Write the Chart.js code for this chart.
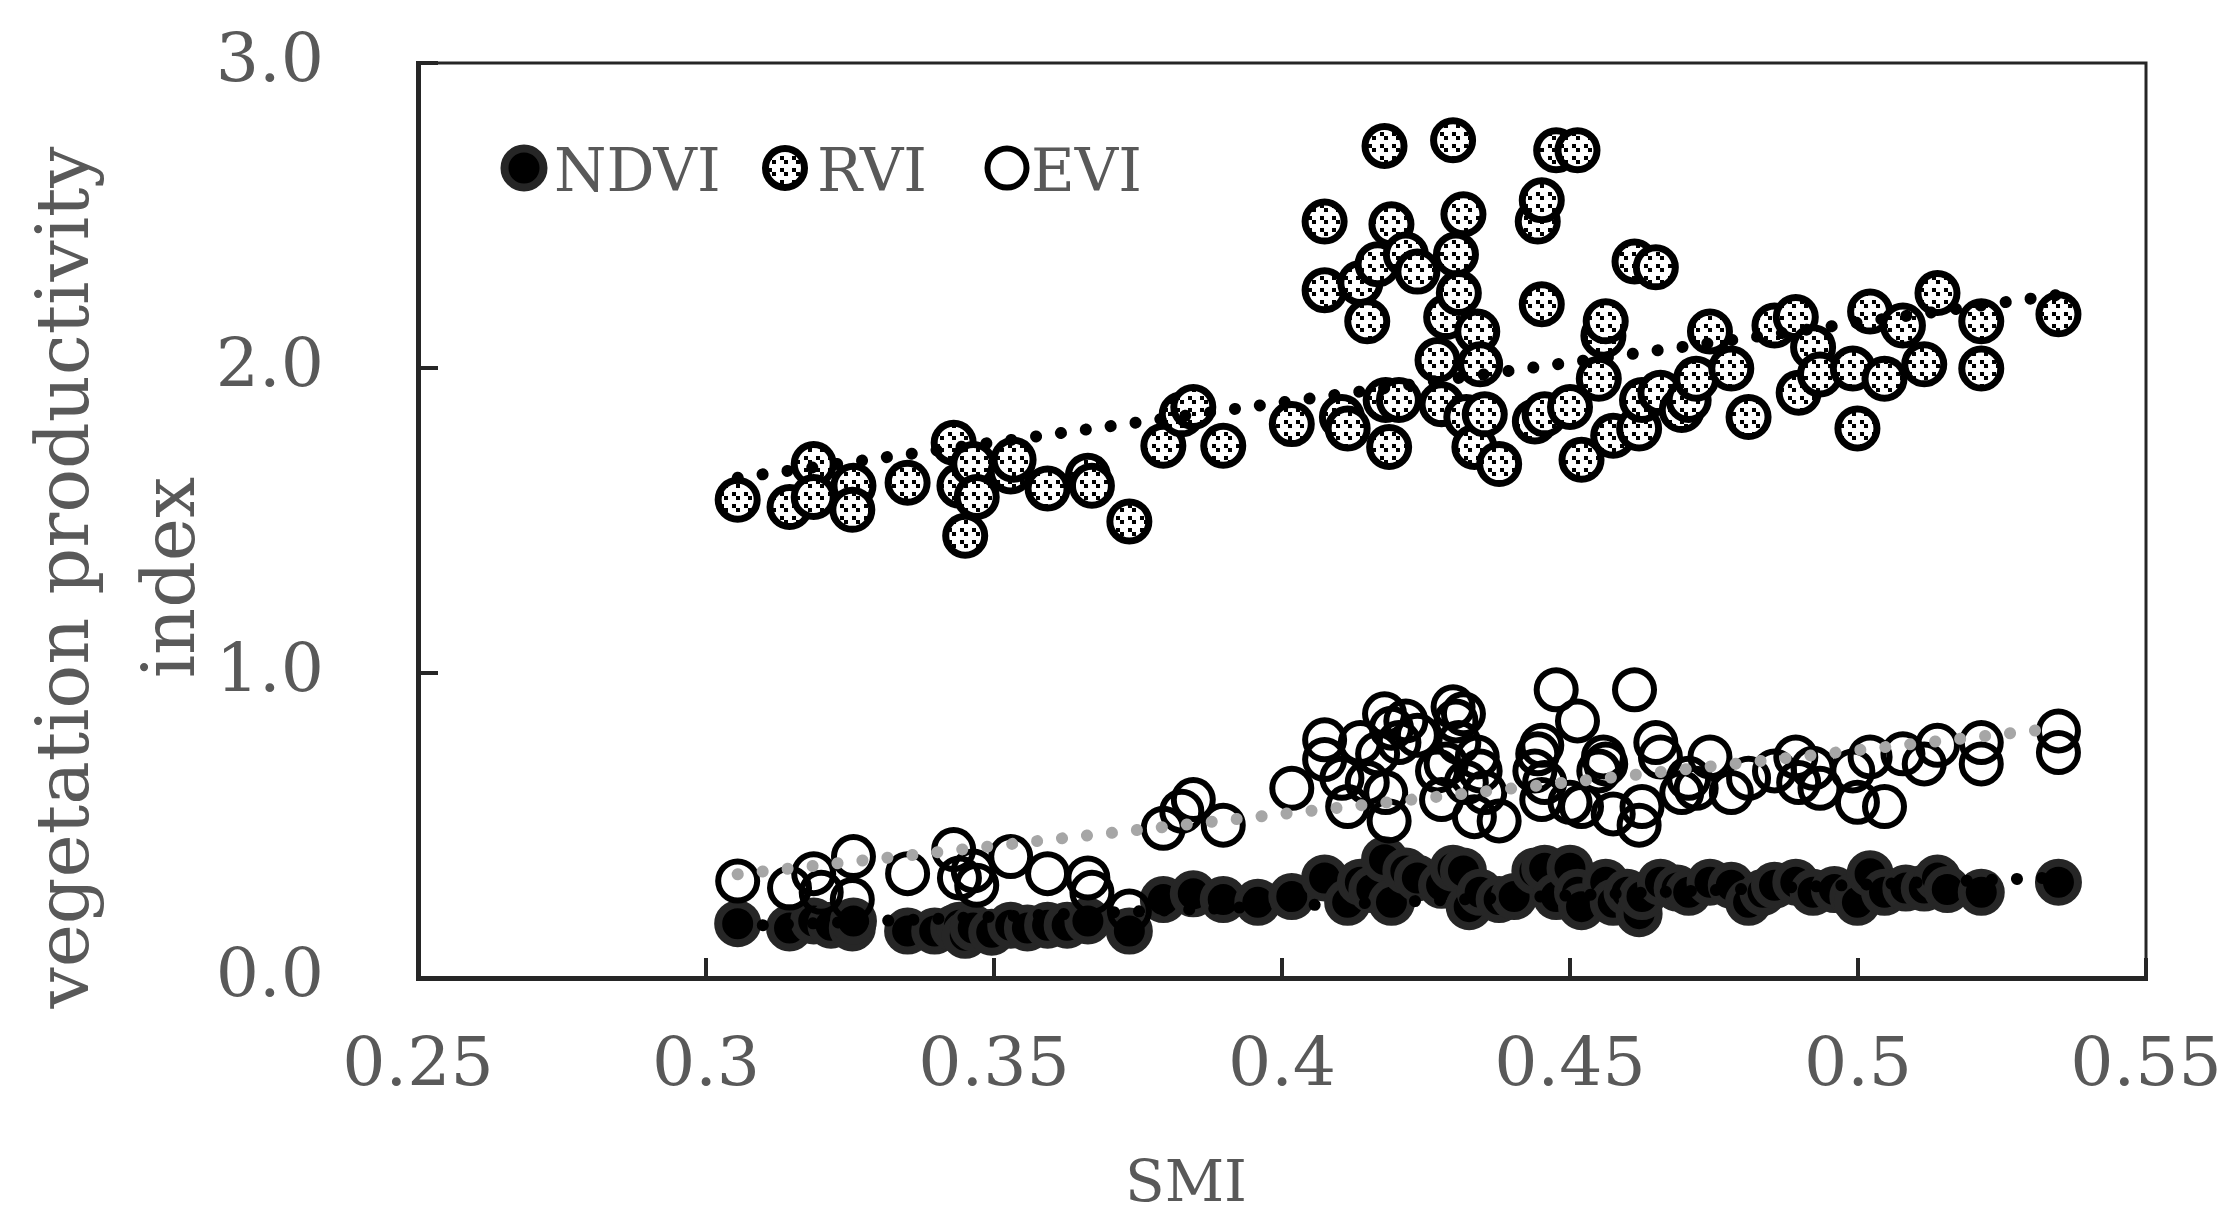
<!DOCTYPE html>
<html><head><meta charset="utf-8">
<script src="https://cdn.jsdelivr.net/npm/chart.js@4.4.1/dist/chart.umd.min.js"></script>
<style>html,body{margin:0;padding:0;background:#fff;}#wrap{width:2239px;height:1231px;}</style>
</head><body><div id="wrap"><canvas id="c" width="2239" height="1231"></canvas></div>
<script>
const seriesNames = ['NDVI', 'RVI', 'EVI'];
const xTickValues = [0.25, 0.3, 0.35, 0.4, 0.45, 0.5, 0.55];
const xTickLabels = ['0.25', '0.3', '0.35', '0.4', '0.45', '0.5', '0.55'];
const yTickValues = [0, 1, 2, 3];
const yTickLabels = ['0.0', '1.0', '2.0', '3.0'];
const xTitle = 'SMI';
const yTitle = ['vegetation productivity', 'index'];

const ndviPoints = [[0.3055,0.178],[0.3145,0.164],[0.3187,0.187],[0.3217,0.173],[0.3254,0.164],[0.3256,0.187],[0.335,0.154],[0.3397,0.154],[0.343,0.164],[0.344,0.173],[0.345,0.14],[0.3464,0.164],[0.3496,0.15],[0.3529,0.173],[0.3558,0.164],[0.3593,0.173],[0.3627,0.173],[0.3663,0.187],[0.3735,0.154],[0.3794,0.257],[0.3846,0.276],[0.3898,0.257],[0.3958,0.248],[0.4017,0.267],[0.4074,0.328],[0.4114,0.248],[0.4136,0.314],[0.4156,0.29],[0.4178,0.388],[0.419,0.248],[0.4215,0.351],[0.4235,0.328],[0.4277,0.304],[0.4297,0.36],[0.4315,0.351],[0.4325,0.234],[0.4344,0.281],[0.4377,0.257],[0.4403,0.267],[0.4439,0.351],[0.4456,0.36],[0.4476,0.267],[0.45,0.36],[0.4513,0.281],[0.452,0.234],[0.4562,0.314],[0.4575,0.248],[0.4599,0.281],[0.462,0.211],[0.4625,0.267],[0.4657,0.314],[0.4686,0.295],[0.4706,0.281],[0.4743,0.314],[0.478,0.304],[0.481,0.248],[0.4835,0.281],[0.4855,0.304],[0.4892,0.314],[0.4922,0.281],[0.4959,0.29],[0.4991,0.267],[0.4999,0.248],[0.5021,0.342],[0.5046,0.281],[0.5083,0.295],[0.5115,0.295],[0.5138,0.328],[0.5155,0.29],[0.5214,0.281],[0.5348,0.314]];

const rviPoints = [[0.3055,1.568],[0.3145,1.544],[0.3187,1.685],[0.3187,1.577],[0.3256,1.614],[0.3254,1.535],[0.335,1.624],[0.343,1.755],[0.344,1.614],[0.345,1.45],[0.3464,1.685],[0.347,1.577],[0.3529,1.661],[0.3534,1.699],[0.3593,1.605],[0.3663,1.647],[0.367,1.614],[0.3735,1.497],[0.3794,1.745],[0.3826,1.848],[0.3846,1.872],[0.3898,1.745],[0.4017,1.816],[0.4074,2.48],[0.4074,2.255],[0.4104,1.839],[0.4114,1.802],[0.4136,2.279],[0.4148,2.153],[0.4166,2.34],[0.4178,2.728],[0.418,1.895],[0.4186,1.741],[0.419,2.471],[0.4203,1.895],[0.4215,2.372],[0.4235,2.316],[0.427,2.026],[0.4277,1.881],[0.4285,2.167],[0.4297,2.747],[0.4302,2.372],[0.4307,2.246],[0.4315,2.504],[0.432,1.839],[0.4334,1.741],[0.4339,2.12],[0.4344,2.012],[0.4352,1.848],[0.4377,1.685],[0.4439,1.825],[0.4444,2.48],[0.4451,2.55],[0.4451,2.209],[0.4456,1.848],[0.4476,2.714],[0.45,1.872],[0.4513,2.714],[0.452,1.699],[0.455,1.965],[0.4558,2.106],[0.4562,2.153],[0.4575,1.778],[0.4612,2.349],[0.462,1.802],[0.4625,1.895],[0.4649,2.33],[0.4657,1.919],[0.4694,1.862],[0.4706,1.895],[0.4719,1.965],[0.4743,2.12],[0.478,1.998],[0.481,1.839],[0.4855,2.139],[0.4892,2.167],[0.4897,1.919],[0.4922,2.068],[0.4934,1.979],[0.4991,1.998],[0.4999,1.802],[0.5021,2.185],[0.5046,1.965],[0.5078,2.139],[0.5115,2.012],[0.5138,2.246],[0.5214,2.153],[0.5214,1.998],[0.5348,2.176]];

const eviPoints = [[0.3055,0.318],[0.3145,0.295],[0.3187,0.342],[0.32,0.281],[0.3256,0.398],[0.3254,0.257],[0.335,0.342],[0.343,0.421],[0.344,0.328],[0.3464,0.351],[0.347,0.304],[0.3529,0.398],[0.3593,0.342],[0.3663,0.328],[0.367,0.281],[0.3735,0.22],[0.3794,0.491],[0.3826,0.547],[0.3846,0.585],[0.3898,0.501],[0.4017,0.622],[0.4074,0.781],[0.4074,0.716],[0.4104,0.655],[0.4114,0.562],[0.4136,0.772],[0.4148,0.641],[0.4166,0.735],[0.4178,0.866],[0.418,0.608],[0.4186,0.515],[0.419,0.819],[0.4203,0.772],[0.4215,0.843],[0.4235,0.796],[0.427,0.679],[0.4277,0.585],[0.4285,0.702],[0.4297,0.889],[0.4302,0.843],[0.4307,0.772],[0.4315,0.866],[0.432,0.641],[0.4334,0.529],[0.4339,0.725],[0.4344,0.679],[0.4352,0.608],[0.4377,0.515],[0.4439,0.679],[0.4444,0.735],[0.4451,0.763],[0.4451,0.585],[0.4456,0.641],[0.4476,0.945],[0.45,0.576],[0.4513,0.843],[0.452,0.562],[0.455,0.679],[0.4558,0.725],[0.4562,0.702],[0.4575,0.538],[0.4612,0.945],[0.462,0.501],[0.4625,0.562],[0.4649,0.772],[0.4657,0.725],[0.4694,0.608],[0.4706,0.655],[0.4719,0.622],[0.4743,0.725],[0.478,0.608],[0.481,0.655],[0.4855,0.679],[0.4892,0.725],[0.4897,0.641],[0.4922,0.688],[0.4934,0.622],[0.4991,0.679],[0.4999,0.576],[0.5021,0.725],[0.5046,0.562],[0.5078,0.735],[0.5115,0.702],[0.5138,0.763],[0.5214,0.772],[0.5214,0.702],[0.5348,0.81],[0.5348,0.739]];

const trendSMI = [0.3055, 0.5348];
const ndviTrend = [0.17, 0.33];
const rviTrend = [1.64, 2.24];
const eviTrend = [0.34, 0.82];

const toXY = arr => arr.map(p => ({x: p[0], y: p[1]}));
const trendXY = vals => trendSMI.map((x, i) => ({x: x, y: vals[i]}));

const canvas = document.getElementById('c');
const mainCtx = canvas.getContext('2d');
const tile = document.createElement('canvas');
tile.width = 12; tile.height = 12;
const tg = tile.getContext('2d');
tg.fillStyle = '#ffffff'; tg.fillRect(0, 0, 12, 12);
tg.fillStyle = '#000000';
tg.fillRect(0, 0, 4, 4); tg.fillRect(4, 4, 4, 4);
const rviPattern = mainCtx.createPattern(tile, 'repeat');

const TEXT = '#595959';
const AXIS = '#262626';
const FONT = "'DejaVu Serif', 'Liberation Serif', serif";

const markerStyles = [
  {fill: '#000000', stroke: '#262626', r: 19.5, bw: 8},
  {fill: rviPattern, stroke: '#000000', r: 19.5, bw: 7},
  {fill: 'rgba(0,0,0,0)', stroke: '#000000', r: 19.5, bw: 6}
];

const bgPlugin = {
  id: 'bg',
  beforeDraw(chart) {
    const c = chart.ctx;
    c.save(); c.fillStyle = '#ffffff'; c.fillRect(0, 0, chart.width, chart.height); c.restore();
  }
};

const framePlugin = {
  id: 'frame',
  beforeDatasetsDraw(chart) {
    const a = chart.chartArea, c = chart.ctx;
    c.save(); c.strokeStyle = AXIS; c.lineWidth = 3;
    c.strokeRect(a.left, a.top, a.right - a.left, a.bottom - a.top);
    c.restore();
  }
};

const legendPlugin = {
  id: 'insideLegend',
  afterDraw(chart) {
    const c = chart.ctx;
    const markerX = [524, 785, 1007];
    const textX = [554, 817, 1031];
    const cy = 168;
    c.save();
    seriesNames.forEach((name, i) => {
      const s = markerStyles[i];
      c.beginPath();
      c.arc(markerX[i], cy, s.r, 0, Math.PI * 2);
      c.fillStyle = s.fill; c.fill();
      c.lineWidth = s.bw; c.strokeStyle = s.stroke; c.stroke();
      c.fillStyle = TEXT;
      c.font = "60px " + FONT;
      c.textBaseline = 'alphabetic';
      c.textAlign = 'left';
      c.fillText(name, textX[i], 191);
    });
    c.restore();
  }
};

const titleShift = {
  id: 'titleShift',
  afterLayout(chart) {
    const shifts = {x: [-96, 0], y: [0, 57]};
    Object.keys(shifts).forEach(id => {
      const s = chart.scales[id];
      if (s && !s._shiftPatched) {
        const orig = s.drawTitle;
        s.drawTitle = function () {
          const c = this.ctx; c.save(); c.translate(shifts[id][0], shifts[id][1]);
          orig.apply(this, arguments); c.restore();
        };
        s._shiftPatched = true;
      }
    });
  }
};

const scatterSet = (label, pts, i, order) => ({
  type: 'scatter', label: label, data: toXY(pts), order: order,
  pointStyle: 'circle', pointRadius: markerStyles[i].r, pointHoverRadius: markerStyles[i].r,
  backgroundColor: markerStyles[i].fill, borderColor: markerStyles[i].stroke,
  pointBorderWidth: markerStyles[i].bw, borderWidth: markerStyles[i].bw
});
const trendSet = (label, vals, color) => ({
  type: 'line', label: label, data: trendXY(vals), order: 0,
  borderColor: color, borderWidth: 12, borderDash: [0.1, 25], borderCapStyle: 'round',
  pointRadius: 0, fill: false, tension: 0
});

new Chart(canvas, {
  data: {
    datasets: [
      scatterSet(seriesNames[0], ndviPoints, 0, 3),
      scatterSet(seriesNames[1], rviPoints, 1, 2),
      scatterSet(seriesNames[2], eviPoints, 2, 1),
      trendSet('NDVI trend', ndviTrend, '#000000'),
      trendSet('RVI trend', rviTrend, '#000000'),
      trendSet('EVI trend', eviTrend, '#a6a6a6')
    ]
  },
  options: {
    responsive: false, animation: false, devicePixelRatio: 1, events: [],
    layout: {padding: {left: 0, right: 93, top: 63, bottom: 0}},
    plugins: {legend: {display: false}, tooltip: {enabled: false}},
    scales: {
      x: {
        type: 'linear', position: 'bottom', min: 0.25, max: 0.55,
        afterBuildTicks: s => { s.ticks = xTickValues.map(v => ({value: v})); },
        afterFit: s => { s.height = 253; s.paddingLeft = 0; s.paddingRight = 0; },
        ticks: {autoSkip: false, maxRotation: 0, padding: 69, color: TEXT,
          font: {family: FONT, size: 68}, callback: (v, i) => xTickLabels[i]},
        grid: {display: true, drawOnChartArea: false, drawTicks: true, tickLength: -20, lineWidth: 4, color: AXIS},
        border: {display: true, color: AXIS, width: 5},
        title: {display: true, text: xTitle, color: TEXT, font: {family: FONT, size: 58}, padding: {top: 0, bottom: 10}}
      },
      y: {
        type: 'linear', position: 'left', min: 0, max: 3,
        afterBuildTicks: s => { s.ticks = yTickValues.map(v => ({value: v})); },
        afterFit: s => { s.width = 418; s.paddingTop = 0; s.paddingBottom = 0; },
        ticks: {padding: 114, color: TEXT, font: {family: FONT, size: 68}, callback: (v, i) => yTickLabels[i]},
        grid: {display: true, drawOnChartArea: false, drawTicks: true, tickLength: -20, lineWidth: 4, color: AXIS},
        border: {display: true, color: AXIS, width: 5},
        title: {display: true, text: yTitle, color: TEXT, font: {family: FONT, size: 73, lineHeight: 1.45}, padding: {top: 16, bottom: 0}}
      }
    }
  },
  plugins: [bgPlugin, framePlugin, legendPlugin, titleShift]
});
</script></body></html>
